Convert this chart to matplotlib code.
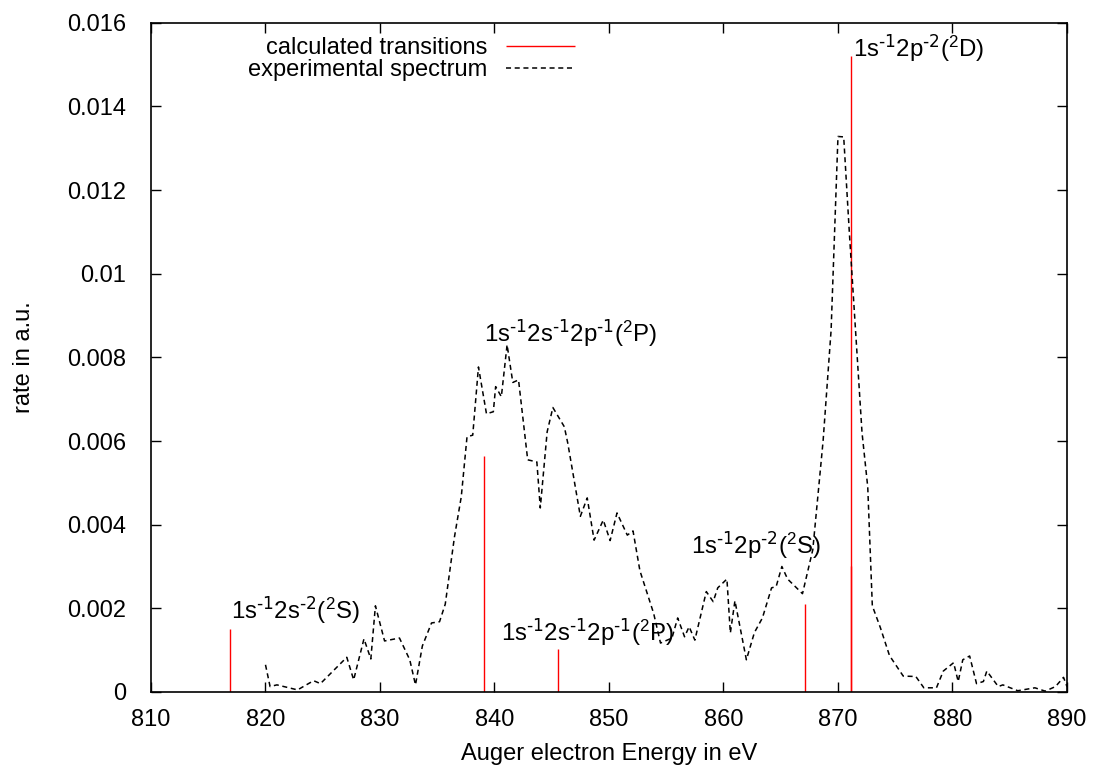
import matplotlib
matplotlib.use('Agg')
import matplotlib.pyplot as plt

plt.rcParams['font.family'] = ['Liberation Sans', 'DejaVu Sans']
plt.rcParams['mathtext.default'] = 'regular'
plt.rcParams['font.size'] = 17

# experimental spectrum (energy in eV, rate in a.u.)
exp_energy = [820.0, 820.4, 821.0, 822.8, 824.2, 824.8, 827.1, 827.7, 828.6, 829.2,
              829.6, 830.4, 831.7, 832.6, 833.1, 833.7, 834.5, 835.2, 835.7, 836.5,
              837.1, 837.6, 838.1, 838.6, 839.3, 839.9, 840.1, 840.6, 841.1, 841.6,
              842.1, 842.9, 843.7, 844.0, 844.6, 845.1, 846.1, 846.4, 847.5, 848.1,
              848.7, 849.5, 850.1, 850.7, 851.6, 852.1, 852.7, 853.9, 854.5, 855.5,
              856.0, 856.6, 857.0, 857.5, 858.5, 859.1, 859.5, 860.3, 860.6, 861.0,
              862.0, 862.7, 863.4, 864.2, 864.6, 865.1, 865.6, 866.9, 867.8, 868.7,
              869.4, 870.0, 870.5, 871.0, 872.1, 872.6, 873.0, 873.7, 874.5, 875.7,
              876.8, 877.5, 878.6, 879.2, 880.1, 880.5, 880.9, 881.5, 882.1, 882.7,
              883.0, 884.0, 884.4, 885.7, 887.2, 888.1, 889.0, 889.7, 890.0]
exp_rate = [0.00065, 0.00013, 0.00017, 0.00005, 0.00027, 0.00020, 0.00083, 0.00029, 0.00127, 0.00079,
            0.00206, 0.00122, 0.00129, 0.00077, 0.00017, 0.00110, 0.00165, 0.00168, 0.00210, 0.00370,
            0.00467, 0.00610, 0.00614, 0.00777, 0.00665, 0.00670, 0.00730, 0.00706, 0.00830, 0.00740,
            0.00746, 0.00555, 0.00550, 0.00440, 0.00622, 0.00680, 0.00634, 0.00595, 0.00420, 0.00464,
            0.00363, 0.00411, 0.00362, 0.00428, 0.00375, 0.00385, 0.00290, 0.00188, 0.00117, 0.00129,
            0.00177, 0.00132, 0.00156, 0.00124, 0.00240, 0.00216, 0.00249, 0.00270, 0.00141, 0.00218,
            0.00077, 0.00142, 0.00177, 0.00249, 0.00252, 0.00300, 0.00270, 0.00235, 0.00340, 0.00600,
            0.00865, 0.01328, 0.01327, 0.01095, 0.00620, 0.00490, 0.00206, 0.00154, 0.00087, 0.00038,
            0.00037, 0.00010, 0.00010, 0.00050, 0.00070, 0.00025, 0.00077, 0.00086, 0.00020, 0.00025,
            0.00050, 0.00013, 0.00017, 0.00003, 0.00010, 0.00002, 0.00013, 0.00035, 0.00013]

# calculated transitions
calc_energy = [816.9, 839.05, 845.55, 867.1, 871.15, 871.15]
calc_rate = [0.0015, 0.00565, 0.00102, 0.0021, 0.0152, 0.0030]

# labels for the transitions (superscripts with plain hyphen like gnuplot)
m1 = r'$^{\text{-1}}$'
m2 = r'$^{\text{-2}}$'
s2 = r'$^{2}$'
label_text = ['1s' + m1 + '2s' + m2 + '(' + s2 + 'S)',
              '1s' + m1 + '2s' + m1 + '2p' + m1 + '(' + s2 + 'P)',
              '1s' + m1 + '2s' + m1 + '2p' + m1 + '(' + s2 + 'P)',
              '1s' + m1 + '2p' + m2 + '(' + s2 + 'S)',
              '1s' + m1 + '2p' + m2 + '(' + s2 + 'D)']
label_x = [817.0, 839.1, 840.6, 857.2, 871.3]
label_y = [0.00196, 0.00858, 0.00144, 0.0035, 0.0154]

fig = plt.figure(figsize=(10.95, 7.67), dpi=100)
ax = fig.add_axes([0.1379, 0.0978, 0.8365, 0.8726])

ax.vlines(calc_energy, 0, calc_rate, color='#ff0000', linewidth=1.0,
          label='calculated transitions')
ax.plot(exp_energy, exp_rate, color='black', linewidth=1.1, dashes=(3.3, 2.4),
        label='experimental spectrum')

for t, x, y in zip(label_text, label_x, label_y):
    ax.text(x, y, t, ha='left', va='center', fontsize=17.3)

ax.set_xlim(810, 890)
ax.set_ylim(0, 0.016)
ax.set_xticks(range(810, 891, 10))
ax.set_yticks([i * 0.002 for i in range(9)])
ax.yaxis.set_major_formatter(matplotlib.ticker.FormatStrFormatter('%g'))
ax.tick_params(direction='in', length=7, width=1.0, top=True, right=True)
ax.tick_params(axis='y', pad=18)
ax.tick_params(axis='x', pad=12)
for s in ax.spines.values():
    s.set_linewidth(1.2)

ax.set_xlabel('Auger electron Energy in eV', labelpad=9)
ax.set_ylabel('rate in a.u.', labelpad=23)

leg = ax.legend(loc='upper left', bbox_to_anchor=(0.088, 1.003), frameon=False,
                markerfirst=False, handlelength=2.9, handletextpad=0.8,
                labelspacing=0.0, borderaxespad=0.3)

fig.savefig('out.png', dpi=100)
